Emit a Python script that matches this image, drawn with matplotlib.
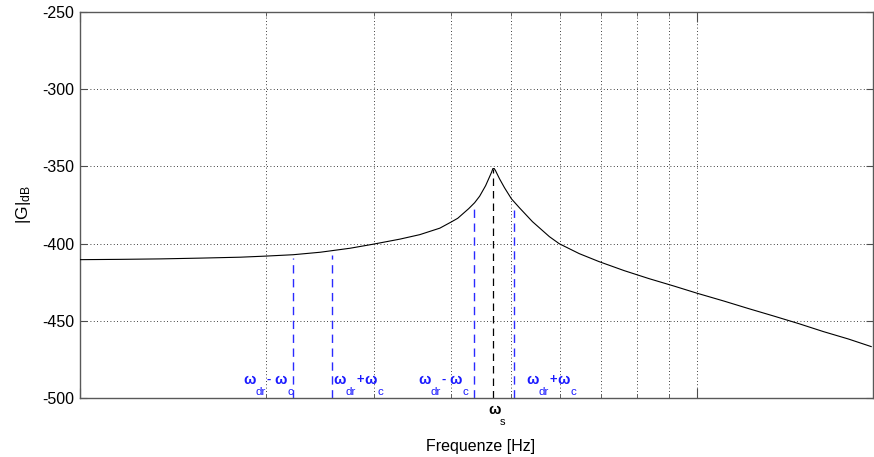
import matplotlib
matplotlib.use("Agg")
import matplotlib.pyplot as plt
from matplotlib.ticker import FixedLocator, NullFormatter, LogLocator
from matplotlib import transforms

# Frequency response magnitude (relative frequency units, dB)
freq = [1.0, 1.165, 1.352, 1.568, 1.820, 2.0, 2.217, 2.451, 2.741, 2.986,
        3.301, 3.555, 3.831, 4.006, 4.096, 4.266, 4.363, 4.445, 4.545,
        4.613, 4.647, 4.670, 4.694, 4.717, 4.787, 4.877, 5.005, 5.157,
        5.414, 5.767, 5.985, 6.447, 6.945, 7.623, 8.366, 9.181, 10.0,
        11.06, 12.13, 13.32, 14.62, 16.04, 17.61, 19.17]
mag_db = [-410.4, -410.2, -409.9, -409.4, -408.8, -408.1, -407.2, -405.6,
          -403.0, -400.4, -397.1, -394.2, -390.0, -385.8, -383.6, -377.4,
          -373.5, -369.3, -362.5, -356.7, -353.8, -351.4, -351.4, -352.8,
          -358.0, -363.8, -371.0, -376.8, -385.8, -395.5, -400.1, -406.5,
          -411.7, -417.5, -422.7, -427.5, -432.1, -437.2, -442.1, -446.9,
          -451.8, -457.0, -461.8, -466.7]

# Sideband frequencies (blue) and resonance (black)
side_freq = [2.217, 2.563, 4.347, 5.044]
side_top_db = [-409.1, -407.2, -375.0, -378.0]
res_freq = 4.68
res_top_db = -352.0

# Sideband labels: anchor frequency and sign
label_freq = [1.841, 2.573, 3.542, 5.293]
label_sign = ["-", "+", "-", "+"]

y_ticks = [-500, -450, -400, -350, -300, -250]
x_lim = (1.0, 19.3)

plt.rcParams["font.family"] = ["Liberation Sans", "DejaVu Sans"]
plt.rcParams["mathtext.fontset"] = "custom"
plt.rcParams["mathtext.rm"] = "Liberation Sans"
plt.rcParams["mathtext.it"] = "Liberation Sans:italic"
plt.rcParams["axes.unicode_minus"] = False

fig = plt.figure(figsize=(8.74, 4.57), dpi=100)
ax = fig.add_axes([80 / 874, 1 - 398 / 457, 793 / 874, 386 / 457])

ax.set_xscale("log")
ax.set_xlim(*x_lim)
ax.set_ylim(y_ticks[0], y_ticks[-1])

ax.plot(freq, mag_db, color="black", lw=0.8, zorder=3)

for f, top in zip(side_freq, side_top_db):
    ax.plot([f, f], [y_ticks[0], top], color="#2a2aff", lw=1.0,
            dashes=(6, 4), zorder=2)
ax.plot([res_freq, res_freq], [y_ticks[0], res_top_db], color="black",
        lw=0.9, dashes=(6, 4), zorder=2)

# Ticks and grid
ax.set_yticks(y_ticks)
ax.xaxis.set_major_locator(FixedLocator([1, 10]))
ax.xaxis.set_minor_locator(LogLocator(base=10, subs=range(2, 10)))
ax.xaxis.set_major_formatter(NullFormatter())
ax.xaxis.set_minor_formatter(NullFormatter())
ax.tick_params(axis="both", which="both", direction="in", top=True,
               right=True, color="0.3")
ax.tick_params(axis="y", which="major", length=5, labelsize=11.5, pad=4)
ax.tick_params(axis="x", which="major", length=7)
ax.tick_params(axis="x", which="minor", length=3)
ax.grid(True, which="major", axis="y", color="black", lw=0.6,
        linestyle=(0, (1, 3)))
ax.grid(True, which="both", axis="x", color="black", lw=0.6,
        linestyle=(0, (1, 3)))
for s in ax.spines.values():
    s.set_color("0.35")
    s.set_linewidth(1.0)

# Sideband labels built from pieces so the subscripts sit low
blue = "#1a1aff"
px = 72 / fig.dpi
for f, sign in zip(label_freq, label_sign):
    pieces = [("ω", 0, 0, 14, "bold"),
              ("dr", 12, -12, 11, "normal"),
              (sign, 23, 0, 12.5, "bold"),
              ("ω", 31, 0, 14, "bold"),
              ("c", 44, -12, 11, "normal")]
    for txt, dx, dy, size, weight in pieces:
        tr = transforms.offset_copy(ax.transData, fig=fig, x=dx * px,
                                    y=dy * px, units="points")
        ax.text(f, -488.5, txt, color=blue, fontsize=size * 0.75,
                ha="left", va="center", transform=tr, fontweight=weight)

# Resonance label under the axis
blend = transforms.blended_transform_factory(ax.transData, ax.transAxes)
tr = transforms.offset_copy(blend, fig=fig, x=-5 * px, y=-12 * px,
                            units="points")
ax.text(res_freq, 0, "ω", transform=tr, ha="left", va="center",
        fontsize=10.5, color="black", fontweight="bold")
tr = transforms.offset_copy(blend, fig=fig, x=6 * px, y=-24 * px,
                            units="points")
ax.text(res_freq, 0, "s", transform=tr, ha="left", va="center",
        fontsize=8, color="black")

ax.set_xlabel("Frequenze [Hz]", fontsize=11.5)
ax.xaxis.set_label_coords(0.505, -0.105)
ax.set_ylabel(r"|G|$_{\mathrm{dB}}$", fontsize=12.5)
ax.yaxis.set_label_coords(-0.059, 0.5)

fig.savefig("out.png", dpi=100)
